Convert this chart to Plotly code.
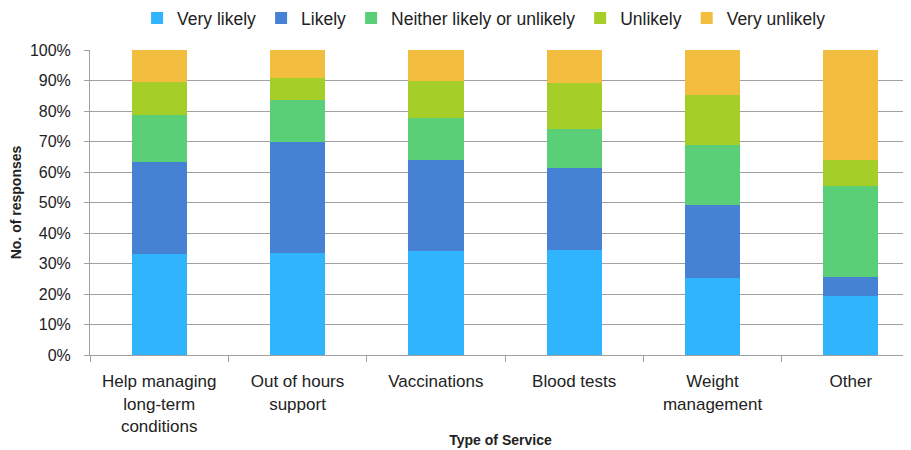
import plotly.graph_objects as go

categories = ["Help managing<br>long-term<br>conditions", "Out of hours<br>support", "Vaccinations",
              "Blood tests", "Weight<br>management", "Other"]
very_likely = [33.0, 33.6, 34.0, 34.3, 25.3, 19.4]
likely = [30.3, 36.1, 30.1, 27.1, 23.9, 6.3]
neither = [15.5, 13.8, 13.5, 12.7, 19.7, 29.8]
unlikely = [10.7, 7.4, 12.2, 15.1, 16.4, 8.6]
very_unlikely = [10.5, 9.1, 10.2, 10.8, 14.7, 35.9]

series = [
    ("Very likely", very_likely, "#30B4FE"),
    ("Likely", likely, "#4582D3"),
    ("Neither likely or unlikely", neither, "#5BCF78"),
    ("Unlikely", unlikely, "#A6CE28"),
    ("Very unlikely", very_unlikely, "#F3BD40"),
]

FONT = "Liberation Sans, Arial, sans-serif"

fig = go.Figure()
for name, vals, col in series:
    fig.add_trace(go.Bar(x=categories, y=[v / 100 for v in vals], name=name,
                         marker=dict(color=col, line=dict(width=0)), width=0.4))

fig.update_layout(
    barmode="stack",
    width=903, height=442,
    margin=dict(l=82, r=0, t=42, b=95, autoexpand=False),
    paper_bgcolor="white", plot_bgcolor="white",
    font=dict(family=FONT, size=16, color="#222"),
    legend=dict(orientation="h", x=0.48, xanchor="center",
                yref="container", y=0.977, yanchor="middle",
                font=dict(size=17.5), traceorder="normal", itemwidth=30,
                itemsizing="constant"),
    showlegend=True,
)
fig.update_xaxes(
    range=[-0.5, 5.435], showline=True, linecolor="#A0A0A0", linewidth=1,
    ticks="outside", tickson="boundaries", ticklen=6, tickcolor="#A0A0A0",
    tickfont=dict(size=17), showgrid=False, automargin=False, ticklabelstandoff=11,
    title=dict(text="<b>Type of Service</b>", font=dict(size=14), standoff=0),
)
fig.update_yaxes(
    range=[0, 1], tickformat=".0%", dtick=0.1, showgrid=True, gridcolor="#A0A0A0",
    gridwidth=1, showline=True, linecolor="#A0A0A0", linewidth=1,
    ticks="outside", ticklen=5, tickcolor="#A0A0A0", tickfont=dict(size=16),
    automargin=False, ticklabelstandoff=10,
    title=dict(text="<b>No. of responses</b>", font=dict(size=14), standoff=6),
    zeroline=False,
)
fig.write_html("out.html")
